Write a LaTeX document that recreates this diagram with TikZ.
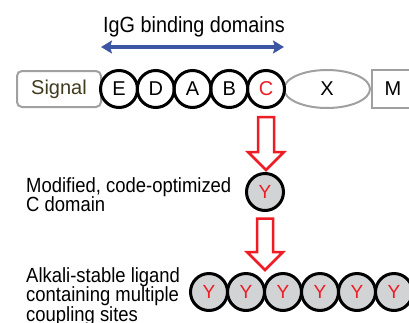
\documentclass[tikz,border=0pt]{standalone}
\usepackage{fontspec}
\setmainfont{Liberation Sans}
\newfontfamily\condfont[FakeStretch=0.9]{Liberation Sans}
\usetikzlibrary{shapes.geometric,arrows.meta,calc}
\definecolor{dgray}{HTML}{A0A0A0}
\definecolor{ared}{HTML}{EE1C24}
\definecolor{ablue}{HTML}{3C55A5}
\definecolor{ygray}{HTML}{D1D3D4}
\definecolor{olive}{HTML}{403A1E}
\begin{document}
\begin{tikzpicture}[x=1pt,y=-1pt,
  dom/.style={circle,draw=black,line width=3pt,minimum size=37pt,inner sep=0pt,font=\fontsize{20}{20}\selectfont},
  ydom/.style={dom,fill=ygray,text=ared,font=\fontsize{19}{19}\selectfont},
  graybox/.style={draw=dgray,line width=2pt,inner sep=0pt,font=\fontsize{20}{20}\selectfont},
  hollow/.style={draw=ared,line width=2.5pt,fill=white,line join=miter},
  bluearrow/.style={draw=ablue,line width=4pt,{Stealth[length=11pt,width=13pt,inset=2pt]}-{Stealth[length=11pt,width=13pt,inset=2pt]}},
  lab/.style={font=\condfont\fontsize{20.5}{19.5}\selectfont,align=left,anchor=north west,inner sep=0pt}
]
\useasboundingbox (0,0) rectangle (409,322);
\clip (0,0) rectangle (409,322);

% title and arrow
\node[font=\condfont\fontsize{22}{22}\selectfont,anchor=base,inner sep=0pt] (title) at (194,32) {IgG binding domains};
\coordinate (bl) at (101,47);
\coordinate (br) at (284,47);
\draw[bluearrow] (bl) -- (br);

% protein row
\node[graybox,rounded corners=5pt,minimum width=84pt,minimum height=36pt,text=olive] (sig) at (59,89) {Signal};
\node[graybox,ellipse,minimum width=86pt,minimum height=38pt] (X) at (327,89) {X};
\node[graybox,minimum width=42pt,minimum height=38pt] (M) at (393,89) {M};
\node[dom] (E) at (119,89) {E};
\node[dom] (D) at (155.75,89) {D};
\node[dom] (A) at (192.5,89) {A};
\node[dom] (B) at (229.25,89) {B};
\node[dom,text=ared] (C) at (266,89) {C};

% modified domain
\node[ydom] (Y) at (265,192) {Y};
\node[lab] (lab1) at (26,177) {Modified, code-optimized\\C domain};

% multimer
\foreach \i/\x in {1/209,2/246,3/283,4/320,5/357,6/394}{
  \node[ydom] (r\i) at (\x,292) {Y};
}
\node[lab] (lab2) at (26,267) {Alkali-stable ligand\\containing multiple\\coupling sites};

% hollow arrows
\draw[hollow] let \p1=($(C.south)+(0,8)$), \p2=($(Y.north)+(0,-2)$) in
  (\x1-8pt,\y1) -- (\x1+8pt,\y1) -- (\x1+8pt,\y2+18pt) -- (\x1+18pt,\y2+18pt) -- (\x1,\y2) -- (\x1-18pt,\y2+18pt) -- (\x1-8pt,\y2+18pt) -- cycle;
\draw[hollow] let \p1=($(Y.south)+(0,6.5)$), \p2=($(Y.south |- r3.north)+(0,-2)$) in
  (\x1-8pt,\y1) -- (\x1+8pt,\y1) -- (\x1+8pt,\y2+18pt) -- (\x1+18pt,\y2+18pt) -- (\x1,\y2) -- (\x1-18pt,\y2+18pt) -- (\x1-8pt,\y2+18pt) -- cycle;
\end{tikzpicture}
\end{document}
